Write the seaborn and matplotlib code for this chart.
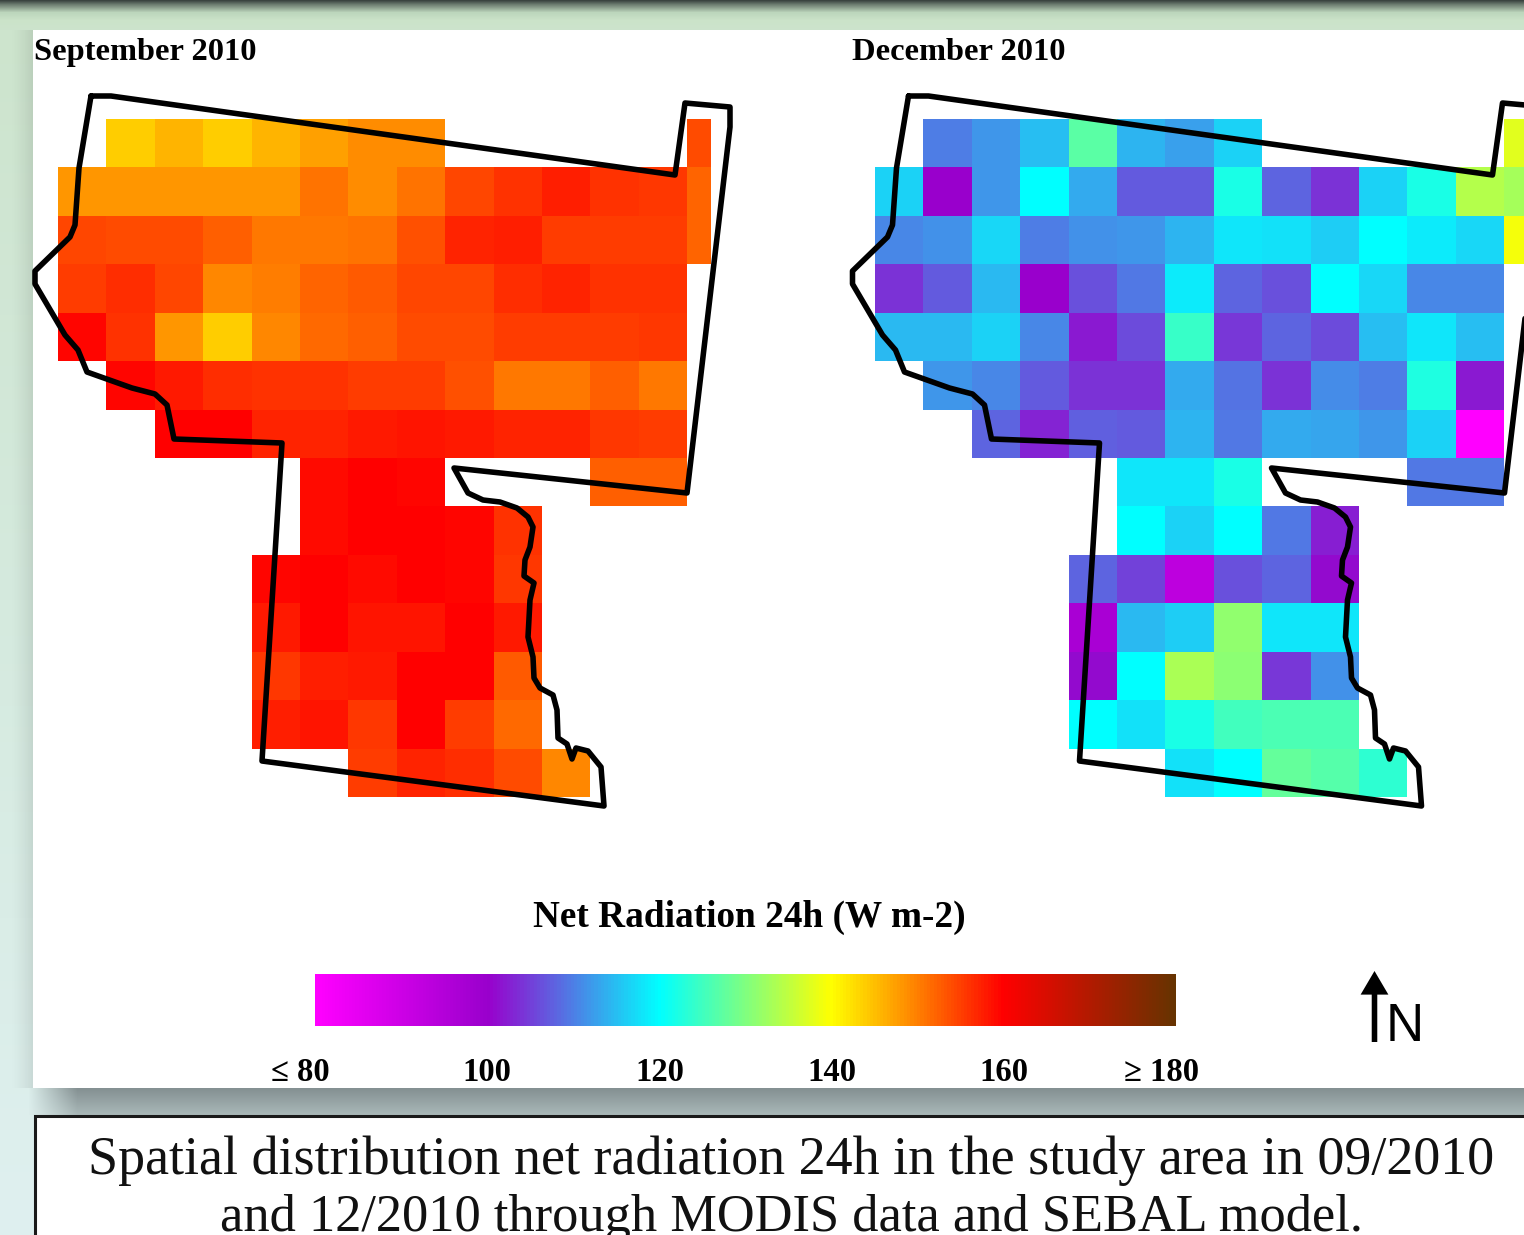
import numpy as np
import matplotlib
matplotlib.use('Agg')
import matplotlib.pyplot as plt
from matplotlib.colors import LinearSegmentedColormap, to_rgb
from matplotlib.transforms import ScaledTranslation
import seaborn as sns

nan = np.nan

# net radiation per pixel (14 rows, 14 columns)
sep_2010 = [
    [nan, 144, 146, 144, 146, 147.5, 149, 149, nan, nan, nan, nan, nan, 154],
    [148, 148, 148, 148, 148, 151, 149, 151, 154.5, 156, 157.5, 156, 155.5, 152],
    [154.5, 154, 154, 152.5, 150.5, 150.5, 151, 153.5, 157, 157.5, 155, 155, 155, 152],
    [155, 156.5, 154.5, 149.5, 150, 152, 153, 154.5, 154.5, 156.5, 157, 156, 156, nan],
    [159.5, 156, 148, 144, 149.5, 151.5, 152.5, 154, 154, 155, 155, 155, 155.5, nan],
    [nan, 159.5, 158, 156.5, 156, 156, 155, 155, 153.5, 150.5, 150.5, 152.5, 150.5, nan],
    [nan, nan, 160, 160, 157, 157, 158, 158.5, 158, 157, 157, 155.5, 155, nan],
    [nan, nan, nan, nan, nan, 159, 160, 159.5, nan, nan, nan, 152.5, 152.5, nan],
    [nan, nan, nan, nan, nan, 159, 160, 160, 159.5, 156, nan, nan, nan, nan],
    [nan, nan, nan, nan, 159.5, 160, 159, 160, 159.5, 155.5, nan, nan, nan, nan],
    [nan, nan, nan, nan, 158, 160, 158.5, 158.5, 160, 158, nan, nan, nan, nan],
    [nan, nan, nan, nan, 155.5, 157.5, 158, 160, 160, 153, nan, nan, nan, nan],
    [nan, nan, nan, nan, 157.5, 158.5, 155.5, 160, 155, 151.5, nan, nan, nan, nan],
    [nan, nan, nan, nan, nan, nan, 155, 157, 156.5, 154, 149.5, nan, nan, nan],
]
dec_2010 = [
    [nan, 110, 112, 115, 127, 114, 112.5, 116.5, nan, nan, nan, nan, nan, 137.5],
    [116.5, 100, 112, 120, 113.5, 107, 107, 122, 108, 104, 116.5, 122, 134, 133],
    [110.5, 111.5, 117, 110, 111.5, 112, 114, 118, 117.5, 116, 120, 118.5, 117, 139],
    [104, 107, 114.5, 100, 106.5, 109.5, 118.5, 108, 106.5, 120, 117, 110.5, 110.5, nan],
    [114.5, 114.5, 116.5, 110.5, 102, 106, 124.5, 104.5, 108, 106, 115, 118, 115, nan],
    [nan, 112, 110.5, 107, 104, 104, 113.5, 109, 104, 111, 110, 122.5, 102, nan],
    [nan, nan, 108, 103, 107.5, 107, 114, 109.5, 113.5, 113, 112, 116.5, 80, nan],
    [nan, nan, nan, nan, nan, 118, 118, 122, nan, nan, nan, 109.5, 109.5, nan],
    [nan, nan, nan, nan, nan, 120, 116.5, 120, 109.5, 102.5, nan, nan, nan, nan],
    [nan, nan, nan, nan, 108, 105, 93, 106.5, 108, 101, nan, nan, nan, nan],
    [nan, nan, nan, nan, 97, 114.5, 116, 131.5, 118, 118, nan, nan, nan, nan],
    [nan, nan, nan, nan, 101, 120, 133.5, 131, 104.5, 111.5, nan, nan, nan, nan],
    [nan, nan, nan, nan, 120, 117.5, 122, 125, 126, 126, nan, nan, nan, nan],
    [nan, nan, nan, nan, nan, nan, 117.5, 120, 128, 126.5, 123.5, nan, nan, nan],
]

panel_titles = ['September 2010', 'December 2010']
bar_title = 'Net Radiation 24h (W m-2)'
bar_ticks = [80, 100, 120, 140, 160, 180]
bar_labels = ['\u2264 80', '100', '120', '140', '160', '\u2265 180']
bar_colors = ['#ff00ff', '#9900cc', '#00ffff', '#ffff00', '#ff0000', '#663300']
caption = ['Spatial distribution net radiation 24h in the study area in 09/2010',
           'and 12/2010 through MODIS data and SEBAL model.']

# study area boundary, in picture pixels of the left panel
border_x = [91, 111, 675, 685, 730, 730, 687, 454, 468, 483, 500, 517, 528, 533, 530, 525, 524, 534, 530,
            528, 533, 534, 540, 553, 557, 558, 567, 572, 576, 588, 601, 604, 262, 282, 174, 167, 155, 132,
            87, 78, 65, 35, 35, 70, 75, 79, 91]
border_y = [96, 96, 175, 103, 107, 127, 493, 468, 493, 500, 502, 508, 517, 527, 547, 560, 576, 583, 600,
            637, 657, 678, 688, 695, 710, 738, 744, 759, 748, 751, 767, 806, 761, 443, 439, 405, 394, 388,
            372, 350, 335, 284, 271, 237, 225, 168, 96]

W, H = 1524, 1235
cmap = LinearSegmentedColormap.from_list('netrad', bar_colors, N=256)
serif = 'Liberation Serif'

sns.set_theme(style='white')
fig = plt.figure(figsize=(W / 100, H / 100), dpi=100)


def pixel_axes(left, top, right, bottom, zorder=1):
    return fig.add_axes([left / W, 1 - bottom / H, (right - left) / W, (bottom - top) / H], zorder=zorder)


# page background behind the chart
bg = pixel_axes(0, 0, W, H, zorder=0)
stops_y = [0, 4, 12, 20, 30, 600, 1235]
stops_c = ['#3a4440', '#6c7c70', '#bcd6bc', '#cbe3c9', '#cde4cd', '#d5eade', '#dff0f0']
yy = np.arange(H)
page = np.stack([np.interp(yy, stops_y, [to_rgb(c)[i] for c in stops_c]) for i in range(3)], axis=1)
bg.imshow(page[:, None, :], extent=(0, W, H, 0), aspect='auto')

# shadow next to the white panel
edge = np.zeros((1, 24, 4))
edge[0, :, 3] = np.linspace(0, 0.09, 24) ** 1.5 * 3.3
bg.imshow(edge, extent=(9, 33, 1088, 30), aspect='auto', interpolation='nearest')
bg.fill_between([33, W], 30, 1088, color='white', lw=0)

# grey band under the panel, fades out to the left
band = np.zeros((27, 50, 4))
band[:, :, :3] = np.linspace(to_rgb('#849092'), to_rgb('#a9b8b8'), 27)[:, None, :]
band[:, :, 3] = np.linspace(0, 1, 50)[None, :]
bg.imshow(band, extent=(28, 78, 1115, 1088), aspect='auto', interpolation='nearest')
bg.imshow(band[:, -1:, :], extent=(78, W, 1115, 1088), aspect='auto', interpolation='nearest')

# caption box with its inner shadow
bg.fill_between([34, W], 1116, H, color='white', lw=0)
inner = np.zeros((30, 50, 4))
inner[:, :, :3] = 0.5
inner[:, :, 3] = np.linspace(0.32, 0, 30)[:, None] * np.linspace(0, 1, 50)[None, :]
bg.imshow(inner, extent=(36, 86, 1147, 1117), aspect='auto', interpolation='nearest')
bg.imshow(inner[:, -1:, :], extent=(86, W, 1147, 1117), aspect='auto', interpolation='nearest')
bg.plot([35, 35, W], [H, 1116, 1116], color='#1a1a1a', lw=2.2, solid_joinstyle='miter')
bg.set_xlim(0, W)
bg.set_ylim(H, 0)
bg.axis('off')

# the two maps, last column only half visible
for grid, left in zip([sep_2010, dec_2010], [58, 875]):
    ax = pixel_axes(left, 119, left + 13.5 * 48.4, 797)
    sns.heatmap(np.array(grid), ax=ax, cmap=cmap, vmin=80, vmax=180, cbar=False,
                xticklabels=False, yticklabels=False)
    ax.set_xlim(0, 13.5)
    ax.patch.set_alpha(0)

# colour bar
cax = pixel_axes(315, 974, 1176, 1026)
helper = pixel_axes(0, 0, 1, 1)
sns.heatmap(np.array([bar_ticks]), ax=helper, cmap=cmap, vmin=80, vmax=180, cbar_ax=cax,
            cbar_kws={'orientation': 'horizontal', 'ticks': bar_ticks})
helper.remove()
cax.set_xticks(bar_ticks)
cax.set_xticklabels(bar_labels, fontfamily=serif, fontweight='bold', fontsize=23.5, color='black')
cax.tick_params(axis='x', length=0, pad=22)
for sp in cax.spines.values():
    sp.set_visible(False)
tick_text = cax.get_xticklabels()
tick_text[0].set_transform(tick_text[0].get_transform() + ScaledTranslation(-0.15, 0, fig.dpi_scale_trans))
tick_text[-1].set_transform(tick_text[-1].get_transform() + ScaledTranslation(-0.14, 0, fig.dpi_scale_trans))

# boundaries, titles and north arrow on top
top = pixel_axes(0, 0, W, H, zorder=3)
top.patch.set_alpha(0)
for dx in [0, 817.5]:
    top.plot(np.array(border_x) + dx, border_y, color='black', lw=4.0, solid_joinstyle='round')
top.text(34, 60, panel_titles[0], family=serif, weight='bold', fontsize=23.4, color='black', va='baseline')
top.text(852, 60, panel_titles[1], family=serif, weight='bold', fontsize=23.4, color='black', va='baseline')
top.text(749, 927, bar_title, family=serif, weight='bold', fontsize=26.8, color='black', ha='center', va='baseline')
top.annotate('', xy=(1374.5, 971), xytext=(1374.5, 1042),
             arrowprops=dict(facecolor='black', edgecolor='none', width=4, headwidth=20, headlength=17, shrink=0))
top.text(1386, 1041, 'N', family='Liberation Sans', fontsize=38, color='black', va='baseline')
top.text(791, 1174, caption[0], family=serif, fontsize=38.9, color='#111111', ha='center', va='baseline')
top.text(791, 1231, caption[1], family=serif, fontsize=37.7, color='#111111', ha='center', va='baseline')
top.set_xlim(0, W)
top.set_ylim(H, 0)
top.axis('off')

fig.savefig('out.png', dpi=100)
